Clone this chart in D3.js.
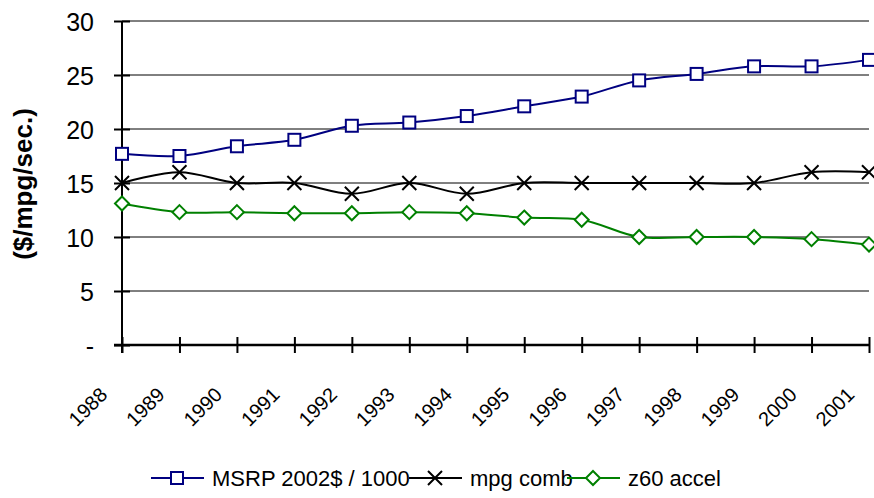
<!DOCTYPE html>
<html>
<head>
<meta charset="utf-8">
<script src="https://cdn.jsdelivr.net/npm/d3@7"></script>
<style>
body { margin: 0; background: #fff; }
text { font-family: "Liberation Sans", Arial, sans-serif; }
</style>
</head>
<body>
<div id="chart"></div>
<script>
var years = [1988, 1989, 1990, 1991, 1992, 1993, 1994, 1995, 1996, 1997, 1998, 1999, 2000, 2001]
var msrp = [17.7, 17.5, 18.4, 19.0, 20.3, 20.6, 21.2, 22.1, 23.0, 24.5, 25.1, 25.8, 25.8, 26.4]
var mpg = [15, 16, 15, 15, 14, 15, 14, 15, 15, 15, 15, 15, 16, 16]
var accel = [13.1, 12.3, 12.3, 12.2, 12.2, 12.3, 12.2, 11.8, 11.6, 10.0, 10.0, 10.0, 9.8, 9.3]
var yTicks = [0, 5, 10, 15, 20, 25, 30]

var width = 874
var height = 498
var svg = d3.select("#chart").append("svg").attr("width", width).attr("height", height)

var x = d3.scalePoint().domain(years).range([122, 869])
var y = d3.scaleLinear().domain([0, 30]).range([345, 21])

// gridlines
svg.append("g").selectAll("line").data(yTicks.slice(1)).enter().append("line")
    .attr("x1", 122).attr("x2", 869)
    .attr("y1", function(d) { return y(d) }).attr("y2", function(d) { return y(d) })
    .attr("stroke", "#000").attr("stroke-width", 1)

// y axis
var yAxis = svg.append("g").attr("transform", "translate(122,0)")
    .call(d3.axisLeft(y).tickValues(yTicks).tickSize(8).tickFormat(function(d) { return d == 0 ? "-" : d }))
yAxis.select(".domain").remove()
yAxis.append("line").attr("x1", 0).attr("x2", 0).attr("y1", y(30)).attr("y2", y(0) + 8).attr("stroke", "#000").attr("stroke-width", 2)
yAxis.selectAll(".tick line").attr("x1", 8).attr("stroke-width", 2)
yAxis.selectAll(".tick text").attr("x", -28).attr("dy", "0.36em")
    .style("font-size", "25px").attr("fill", "#000")

// x axis
var xAxis = svg.append("g").attr("transform", "translate(0," + y(0) + ")")
    .call(d3.axisBottom(x).tickSize(8).tickSizeOuter(0))
xAxis.select(".domain").remove()
xAxis.append("line").attr("x1", 114).attr("x2", 869).attr("stroke", "#000").attr("stroke-width", 2.5)
xAxis.selectAll(".tick line").attr("y1", -8).attr("stroke-width", 2)
xAxis.selectAll(".tick text")
    .attr("y", 0).attr("dy", 0)
    .attr("transform", "translate(-14,51) rotate(-45)")
    .style("text-anchor", "end")
    .style("font-size", "20px").attr("fill", "#000")

// y label
svg.append("text").attr("transform", "translate(32,184) rotate(-90)")
    .attr("text-anchor", "middle").style("font-size", "26px").style("font-weight", "bold")
    .text("($/mpg/sec.)")

var line = d3.line()
    .x(function(d, i) { return x(years[i]) })
    .y(function(d) { return y(d) })
    .curve(d3.curveCatmullRom.alpha(0.5))

var series = [
    {name: "MSRP 2002$ / 1000", values: msrp, color: "#000080", marker: "square"},
    {name: "mpg comb", values: mpg, color: "#000000", marker: "cross"},
    {name: "z60 accel", values: accel, color: "#008000", marker: "diamond"}
]

function drawMarker(g, type, color) {
    if (type == "square") {
        g.append("rect").attr("x", -6).attr("y", -6).attr("width", 12).attr("height", 12)
            .attr("fill", "#fff").attr("stroke", color).attr("stroke-width", 2)
    } else if (type == "diamond") {
        g.append("path").attr("d", "M0,-7L7,0L0,7L-7,0Z")
            .attr("fill", "#fff").attr("stroke", color).attr("stroke-width", 2)
    } else {
        g.append("path").attr("d", "M-7,-7L7,7M-7,7L7,-7")
            .attr("fill", "none").attr("stroke", color).attr("stroke-width", 2)
    }
}

series.forEach(function(s) {
    svg.append("path").datum(s.values).attr("d", line)
        .attr("fill", "none").attr("stroke", s.color).attr("stroke-width", 2)
    s.values.forEach(function(v, i) {
        var g = svg.append("g").attr("transform", "translate(" + x(years[i]) + "," + y(v) + ")")
        drawMarker(g, s.marker, s.color)
    })
})

// legend
var legendX = [151, 409, 567]
series.forEach(function(s, i) {
    var g = svg.append("g").attr("transform", "translate(" + legendX[i] + ",478)")
    g.append("line").attr("x1", 0).attr("x2", 53).attr("stroke", s.color).attr("stroke-width", 2)
    var m = g.append("g").attr("transform", "translate(26,0)")
    drawMarker(m, s.marker, s.color)
    g.append("text").attr("x", 61).attr("y", 8)
        .style("font-size", "22px").attr("fill", "#000").text(s.name)
})
</script>
</body>
</html>
